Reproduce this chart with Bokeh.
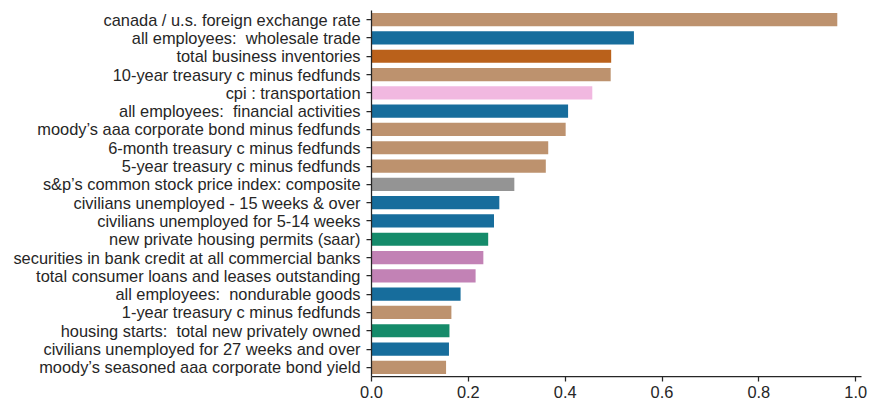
from bokeh.plotting import figure
from bokeh.models import ColumnDataSource, FactorRange, Range1d, FixedTicker, PrintfTickFormatter
from bokeh.embed import file_html
from bokeh.resources import INLINE

labels = [
    "canada / u.s. foreign exchange rate",
    "all employees:\u00a0 wholesale trade",
    "total business inventories",
    "10-year treasury c minus fedfunds",
    "cpi : transportation",
    "all employees:\u00a0 financial activities",
    "moody\u2019s aaa corporate bond minus fedfunds",
    "6-month treasury c minus fedfunds",
    "5-year treasury c minus fedfunds",
    "s&p\u2019s common stock price index: composite",
    "civilians unemployed - 15 weeks & over",
    "civilians unemployed for 5-14 weeks",
    "new private housing permits (saar)",
    "securities in bank credit at all commercial banks",
    "total consumer loans and leases outstanding",
    "all employees:\u00a0 nondurable goods",
    "1-year treasury c minus fedfunds",
    "housing starts:\u00a0 total new privately owned",
    "civilians unemployed for 27 weeks and over",
    "moody\u2019s seasoned aaa corporate bond yield",
]
values = [0.962, 0.542, 0.495, 0.494, 0.456, 0.406, 0.401, 0.365, 0.360, 0.295,
          0.264, 0.253, 0.241, 0.231, 0.215, 0.184, 0.165, 0.161, 0.160, 0.154]
groups = ["rates", "labor", "output", "rates", "prices", "labor", "rates", "rates", "rates", "stock",
          "labor", "labor", "housing", "credit", "credit", "labor", "rates", "housing", "labor", "rates"]
group_colors = {
    "rates": "#BD926E",
    "labor": "#176D9C",
    "output": "#BA611B",
    "prices": "#F1B8E0",
    "stock": "#949494",
    "housing": "#158B6A",
    "credit": "#C282B5",
}
x_ticks = [0.0, 0.2, 0.4, 0.6, 0.8, 1.0]

colors = [group_colors[g] for g in groups]
source = ColumnDataSource(dict(label=labels, value=values, color=colors))

FONT = "Liberation Sans"
TXT = "#262626"

p = figure(
    width=869, height=400,
    y_range=FactorRange(factors=list(reversed(labels))),
    x_range=Range1d(0, 1.012),
    output_backend="svg", toolbar_location=None,
    min_border_left=371, min_border_right=8, min_border_top=10, min_border_bottom=24,
)
p.hbar(y="label", left=0, right="value", height=0.72, fill_color="color",
       line_color=None, source=source)

p.outline_line_color = None
p.xgrid.grid_line_color = None
p.ygrid.grid_line_color = None

for ax in (p.xaxis[0], p.yaxis[0]):
    ax.axis_line_color = TXT
    ax.axis_line_width = 1.25
    ax.major_tick_line_color = TXT
    ax.major_tick_line_width = 1.25
    ax.major_tick_out = 5
    ax.major_tick_in = 0
    ax.minor_tick_line_color = None
    ax.major_label_text_font = FONT
    ax.major_label_text_font_size = "16.4px"
    ax.major_label_text_color = TXT

p.yaxis.major_label_standoff = 6
p.xaxis.major_label_standoff = 4
p.xaxis.ticker = FixedTicker(ticks=x_ticks)
p.xaxis.formatter = PrintfTickFormatter(format="%.1f")

open("out.html", "w").write(file_html(p, INLINE))
